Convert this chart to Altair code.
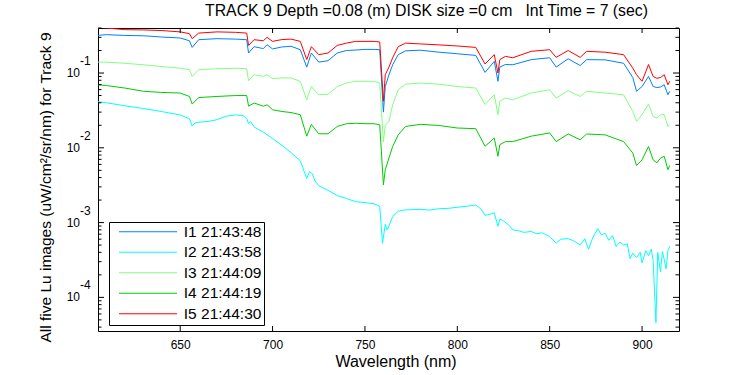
import altair as alt
import pandas as pd

# ---------------- data ----------------
series = ["I1 21:43:48", "I2 21:43:58", "I3 21:44:09", "I4 21:44:19", "I5 21:44:30"]
colors = ["#0080ff", "#00ffff", "#80ff80", "#00cc00", "#ff0000"]

wl = [605, 610, 620, 630, 640, 650, 655, 656.5, 660, 670, 680, 686, 687, 690, 695, 697, 700, 705, 710,
      715, 718.5, 721, 725, 730, 735, 740, 745, 750, 755, 758, 760, 761, 763, 765, 768, 772, 780, 790,
      800, 810, 815, 820, 822, 823, 826, 830, 840, 850, 853.5, 860, 866.5, 870, 880, 890, 895, 897,
      900, 903.5, 906, 908, 910, 912, 914, 915]

i1 = [0.318, 0.326, 0.318, 0.315, 0.303, 0.294, 0.27, 0.22, 0.279, 0.288, 0.284, 0.279, 0.185, 0.225,
      0.212, 0.239, 0.21, 0.223, 0.228, 0.205, 0.12, 0.185, 0.14, 0.146, 0.185, 0.2, 0.203, 0.207, 0.207,
      0.205, 0.030, 0.066, 0.095, 0.129, 0.176, 0.198, 0.202, 0.19, 0.181, 0.172, 0.102, 0.143, 0.0775,
      0.12, 0.13, 0.129, 0.151, 0.16, 0.12, 0.155, 0.126, 0.151, 0.15, 0.135, 0.087, 0.057, 0.066, 0.09,
      0.066, 0.064, 0.065, 0.0697, 0.0512, 0.057]

i3 = [0.14, 0.14, 0.135, 0.129, 0.122, 0.116, 0.111, 0.09, 0.111, 0.114, 0.116, 0.114, 0.079, 0.095,
      0.09, 0.095, 0.084, 0.086, 0.086, 0.0775, 0.0439, 0.066, 0.0512, 0.052, 0.066, 0.0735, 0.0775,
      0.0775, 0.0775, 0.0735, 0.012, 0.02, 0.0226, 0.0376, 0.0597, 0.071, 0.0735, 0.071, 0.066, 0.063,
      0.038, 0.0512, 0.0277, 0.0418, 0.0463, 0.0439, 0.054, 0.0597, 0.0463, 0.058, 0.0486, 0.057, 0.054,
      0.0512, 0.0306, 0.0226, 0.0277, 0.0385, 0.0262, 0.025, 0.0277, 0.0277, 0.0193, 0.0203]

i4 = [0.0697, 0.068, 0.063, 0.057, 0.055, 0.054, 0.0486, 0.0385, 0.047, 0.0486, 0.05, 0.05, 0.036,
      0.0397, 0.036, 0.0376, 0.0323, 0.0306, 0.0296, 0.0277, 0.0143, 0.0206, 0.0154, 0.0154, 0.0193,
      0.021, 0.0213, 0.021, 0.021, 0.0203, 0.0032, 0.0051, 0.0073, 0.0104, 0.0149, 0.0193, 0.0206,
      0.0199, 0.0184, 0.018, 0.0105, 0.0135, 0.0077, 0.011, 0.0121, 0.0121, 0.0143, 0.0158, 0.0121,
      0.0153, 0.0128, 0.0153, 0.0149, 0.0121, 0.0085, 0.0058, 0.0069, 0.0104, 0.0069, 0.0063, 0.0073,
      0.0077, 0.0051, 0.0058]

i5 = [0.41, 0.40, 0.38, 0.377, 0.37, 0.355, 0.336, 0.288, 0.342, 0.355, 0.35, 0.342, 0.234, 0.279,
      0.27, 0.30, 0.265, 0.28, 0.284, 0.265, 0.151, 0.225, 0.176, 0.185, 0.234, 0.251, 0.265, 0.265,
      0.265, 0.26, 0.042, 0.095, 0.12, 0.16, 0.225, 0.251, 0.245, 0.238, 0.23, 0.22, 0.132, 0.176, 0.10,
      0.151, 0.167, 0.16, 0.195, 0.205, 0.162, 0.20, 0.162, 0.195, 0.19, 0.176, 0.116, 0.095, 0.0775,
      0.13, 0.09, 0.085, 0.087, 0.095, 0.0697, 0.0775]

wl2 = [605, 610, 620, 630, 640, 650, 655, 656.5, 658, 660, 665, 670, 675, 680, 684, 686, 687, 688, 690,
       695, 700, 705, 710, 715, 718.5, 720, 721.5, 723, 725, 730, 735, 740, 745, 750, 755, 758, 759.5,
       761, 762, 763, 765, 768, 772, 780, 785, 790, 795, 800, 805, 810, 813, 815, 818, 820, 822, 823,
       825, 828, 830, 833, 836, 840, 843, 846, 850, 853.5, 856, 860, 863, 866.5, 869, 871, 873, 876,
       878, 880, 882, 884, 886, 888, 890, 892, 893.5, 895, 897, 899, 900, 902, 903.5, 905, 906, 907.5,
       908.5, 910, 911, 912, 913, 914, 915]
i2 = [0.0415, 0.040, 0.0365, 0.0335, 0.0305, 0.0275, 0.0245, 0.0195, 0.0215, 0.022, 0.0225, 0.0238,
      0.0265, 0.0275, 0.027, 0.0245, 0.021, 0.0225, 0.019, 0.0162, 0.0133, 0.0108, 0.0086, 0.0067,
      0.0039, 0.0048, 0.0045, 0.0036, 0.0031, 0.0027, 0.0023, 0.0021, 0.0019, 0.00185, 0.00178, 0.00165,
      0.00053, 0.00095, 0.0008, 0.0009, 0.0012, 0.00142, 0.00148, 0.0015, 0.00147, 0.00153, 0.00155,
      0.0016, 0.00165, 0.00172, 0.0015, 0.00125, 0.0013, 0.00135, 0.00089, 0.00112, 0.00105, 0.00092,
      0.0008, 0.00078, 0.00074, 0.00076, 0.00071, 0.00073, 0.00065, 0.00053, 0.0006, 0.00061, 0.00057,
      0.0005, 0.00061, 0.00044, 0.0006, 0.00083, 0.00068, 0.00072, 0.00058, 0.00067, 0.00048, 0.00055,
      0.0005, 0.00052, 0.00033, 0.00039, 0.00034, 0.0004, 0.00029, 0.00042, 0.00036, 0.00044, 0.00031,
      0.000046, 0.0004, 0.00022, 0.00041, 0.00032, 0.00024, 0.00042, 0.00048]

x_ticks = [650, 700, 750, 800, 850, 900]
decade_exp = [-4, -3, -2, -1]
minor_mult = [2, 3, 4, 5, 6, 7, 8, 9]

NB = "\u00a0"
title_text = "TRACK 9 Depth =0.08 (m) DISK size =0 cm" + NB * 3 + "Int Time = 7 (sec)"
x_title = "Wavelength (nm)"
y_title = "All five Lu images (uW/cm²/sr/nm) for Track 9"

# ---------------- tables ----------------
rows = []
for name, xs, ys in [(series[0], wl, i1), (series[1], wl2, i2), (series[2], wl, i3),
                     (series[3], wl, i4), (series[4], wl, i5)]:
    for k, (a, b) in enumerate(zip(xs, ys)):
        rows.append({"series": name, "wl": a, "v": b, "k": k})
df = pd.DataFrame(rows)

XD = [605.5, 920]
YD = [3.55e-5, 0.40]
W, H = 581, 303
FONT = "Liberation Sans"

xsc = alt.Scale(domain=XD, nice=False, zero=False)
ysc = alt.Scale(type="log", domain=YD, nice=False)

dec_df = pd.DataFrame({"v": [10.0 ** e for e in decade_exp],
                       "base": ["10"] * len(decade_exp),
                       "ex": [str(e) for e in decade_exp]})
minor_vals = [m * 10.0 ** e for e in [-5] + decade_exp for m in minor_mult]
minor_vals = [v for v in minor_vals if YD[0] <= v <= YD[1]]
minor_df = pd.DataFrame({"v": minor_vals})
xt_df = pd.DataFrame({"wl": x_ticks})

SYM_SIZE = 134.6  # custom path spans 10 units -> 5*sqrt(size) px long

lines = alt.Chart(df).mark_line(strokeWidth=1, clip=True, interpolate="linear").encode(
    x=alt.X("wl:Q", scale=xsc,
            axis=alt.Axis(values=x_ticks, ticks=False, domain=False, grid=False, labelFontSize=12,
                          labelFont=FONT, labelColor="black", labelPadding=8, title=x_title,
                          titleFont=FONT, titleFontSize=16, titleFontWeight="normal",
                          titleColor="black", titlePadding=3, labelFlush=False,
                          titleX=W / 2 + 7)),
    y=alt.Y("v:Q", scale=ysc,
            axis=alt.Axis(labels=False, ticks=False, domain=False, grid=False, title=y_title,
                          titleFont=FONT, titleFontSize=15.5, titleFontWeight="normal",
                          titleColor="black", titleX=-53, titleY=159, titleBaseline="middle")),
    color=alt.Color("series:N", scale=alt.Scale(domain=series, range=colors),
                    legend=alt.Legend(title=None, orient="none", legendX=11, legendY=194,
                                      symbolType="M-5,0H5", symbolSize=SYM_SIZE,
                                      symbolStrokeWidth=1, symbolOffset=29.3,
                                      labelFont=FONT, labelFontSize=15.5, labelColor="black",
                                      strokeColor="black", fillColor="white", padding=2,
                                      labelOffset=28, rowPadding=3.5)),
    order="k:Q",
)

def xt(y1, y2):
    return alt.Chart(xt_df).mark_rule(color="black", strokeWidth=1).encode(
        x=alt.X("wl:Q", scale=xsc), y=alt.value(y1), y2=alt.value(y2))

def yt(data, x1, x2):
    return alt.Chart(data).mark_rule(color="black", strokeWidth=1).encode(
        y=alt.Y("v:Q", scale=ysc), x=alt.value(x1), x2=alt.value(x2))

ticks = [xt(H, H - 5), xt(0, 5),
         yt(dec_df, 0, 6), yt(dec_df, W, W - 6),
         yt(minor_df, 0, 3.5), yt(minor_df, W, W - 3.5)]

lab10 = alt.Chart(dec_df).mark_text(font=FONT, fontSize=12, align="right", baseline="middle",
                                    color="black").encode(
    y=alt.Y("v:Q", scale=ysc), x=alt.value(-18), text="base:N")
labex = alt.Chart(dec_df).mark_text(font=FONT, fontSize=12, align="left", baseline="middle",
                                    color="black", dy=-12).encode(
    y=alt.Y("v:Q", scale=ysc), x=alt.value(-18), text="ex:N")

chart = alt.layer(lines, *ticks, lab10, labex).properties(
    width=W, height=H,
    background="white",
    title=alt.TitleParams(title_text, font=FONT, fontSize=15.8, fontWeight="normal", color="black",
                          anchor="middle", dx=38, offset=8),
    autosize=alt.AutoSizeParams(type="none"),
    padding={"left": 98, "top": 28, "right": 71, "bottom": 44},
).configure_view(stroke="black", strokeWidth=1)

chart.save("out.html", embed_options={"renderer": "svg", "actions": False})
